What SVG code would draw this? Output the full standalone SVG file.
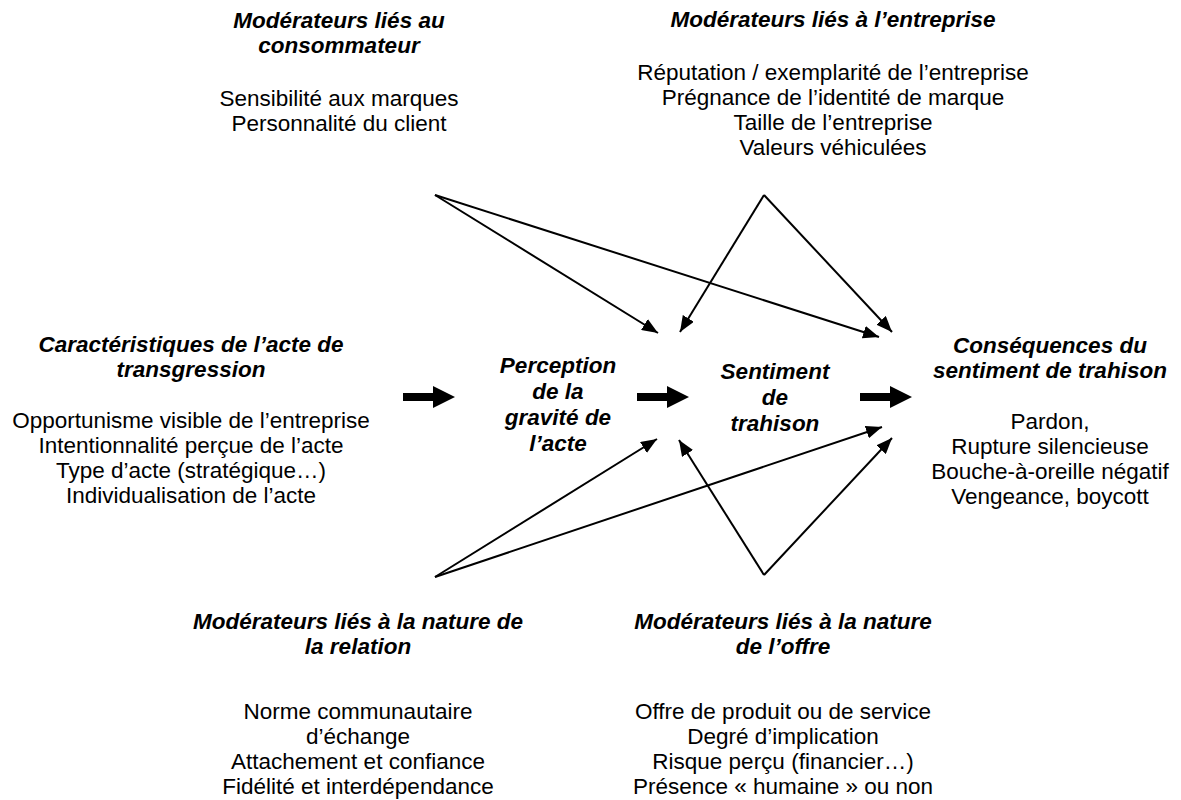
<svg xmlns="http://www.w3.org/2000/svg" width="1181" height="800" viewBox="0 0 1181 800">
<defs>
<marker id="ah" markerUnits="userSpaceOnUse" markerWidth="17" markerHeight="13" refX="16" refY="6.5" orient="auto">
<path d="M0,0 L16,6.5 L0,13 Z" fill="#000"/>
</marker>
<style>
text{font-family:"Liberation Sans",Arial,sans-serif;font-size:22.5px;fill:#000;text-anchor:middle}
.t{font-weight:bold;font-style:italic}
.ln{stroke:#000;stroke-width:2;fill:none;marker-end:url(#ah)}
.big{fill:#000}
</style>
</defs>
<rect width="1181" height="800" fill="#fff"/>
<g id="mod-consommateur">
<text class="t" x="339" y="28">Modérateurs liés au</text>
<text class="t" x="339" y="53">consommateur</text>
<text x="339" y="106">Sensibilité aux marques</text>
<text x="339" y="131">Personnalité du client</text>
</g>
<g id="mod-entreprise">
<text class="t" x="833" y="27">Modérateurs liés à l’entreprise</text>
<text x="833" y="80">Réputation / exemplarité de l’entreprise</text>
<text x="833" y="105">Prégnance de l’identité de marque</text>
<text x="833" y="130">Taille de l’entreprise</text>
<text x="833" y="155">Valeurs véhiculées</text>
</g>
<g id="caracteristiques">
<text class="t" x="191" y="352">Caractéristiques de l’acte de</text>
<text class="t" x="191" y="377">transgression</text>
<text x="191" y="428">Opportunisme visible de l’entreprise</text>
<text x="191" y="453">Intentionnalité perçue de l’acte</text>
<text x="191" y="478">Type d’acte (stratégique…)</text>
<text x="191" y="503">Individualisation de l’acte</text>
</g>
<g id="perception">
<text class="t" x="558" y="373">Perception</text>
<text class="t" x="558" y="399">de la</text>
<text class="t" x="558" y="425">gravité de</text>
<text class="t" x="558" y="451">l’acte</text>
</g>
<g id="sentiment">
<text class="t" x="775" y="379">Sentiment</text>
<text class="t" x="775" y="405">de</text>
<text class="t" x="775" y="431">trahison</text>
</g>
<g id="consequences">
<text class="t" x="1050" y="353">Conséquences du</text>
<text class="t" x="1050" y="378">sentiment de trahison</text>
<text x="1050" y="429">Pardon,</text>
<text x="1050" y="454">Rupture silencieuse</text>
<text x="1050" y="479">Bouche-à-oreille négatif</text>
<text x="1050" y="504">Vengeance, boycott</text>
</g>
<g id="mod-relation">
<text class="t" x="358" y="629">Modérateurs liés à la nature de</text>
<text class="t" x="358" y="654">la relation</text>
<text x="358" y="719">Norme communautaire</text>
<text x="358" y="744">d’échange</text>
<text x="358" y="769">Attachement et confiance</text>
<text x="358" y="794">Fidélité et interdépendance</text>
</g>
<g id="mod-offre">
<text class="t" x="783" y="629">Modérateurs liés à la nature</text>
<text class="t" x="783" y="654">de l’offre</text>
<text x="783" y="719">Offre de produit ou de service</text>
<text x="783" y="744">Degré d’implication</text>
<text x="783" y="769">Risque perçu (financier…)</text>
<text x="783" y="794">Présence « humaine » ou non</text>
</g>
<g id="connectors">
<path class="big" d="M403,393 L433,393 L433,386 L455,397 L433,408 L433,401 L403,401 Z"/>
<path class="big" d="M637,393 L667,393 L667,386 L689,397 L667,408 L667,401 L637,401 Z"/>
<path class="big" d="M860,393 L890,393 L890,386 L912,397 L890,408 L890,401 L860,401 Z"/>
<line class="ln" x1="435" y1="195" x2="658" y2="333"/>
<line class="ln" x1="435" y1="195" x2="879" y2="337"/>
<line class="ln" x1="764" y1="195" x2="680" y2="332"/>
<line class="ln" x1="764" y1="195" x2="892" y2="332"/>
<line class="ln" x1="435" y1="577" x2="657" y2="439"/>
<line class="ln" x1="435" y1="577" x2="882" y2="427"/>
<line class="ln" x1="764" y1="575" x2="679" y2="440"/>
<line class="ln" x1="764" y1="575" x2="892" y2="438"/>
</g>
</svg>
